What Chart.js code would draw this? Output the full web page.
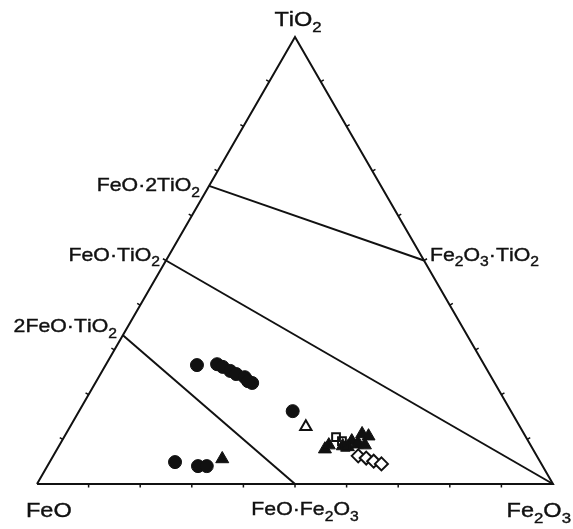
<!DOCTYPE html>
<html>
<head>
<meta charset="utf-8">
<script src="https://cdn.jsdelivr.net/npm/chart.js@4"></script>
<style>
  html, body { margin: 0; padding: 0; background: #fff; }
  #wrap { width: 573px; height: 529px; }
</style>
</head>
<body>
<div id="wrap"><canvas id="ternary" width="573" height="529"></canvas></div>
<script>
// mole fractions (%): TiO2 and Fe2O3, FeO is the rest
const phaseNames   = ['TiO2', 'FeO', 'Fe2O3', 'FeO·2TiO2', 'FeO·TiO2', '2FeO·TiO2', 'Fe2O3·TiO2', 'FeO·Fe2O3'];
const phaseTiO2    = [100, 0, 0, 66.7, 50, 33.3, 50, 0];
const phaseFe2O3   = [0, 0, 100, 0, 0, 0, 50, 50];

// tie lines, by phase name
const tieLines = [
    ['FeO·2TiO2', 'Fe2O3·TiO2'],
    ['FeO·TiO2', 'Fe2O3'],
    ['2FeO·TiO2', 'FeO·Fe2O3']
];

const circleTiO2  = [26.6, 26.8, 26.2, 25.3, 24.6, 23.9, 22.6, 23.0, 16.3, 4.9, 4.0, 4.0];
const circleFe2O3 = [17.7, 21.5, 22.9, 24.8, 26.3, 28.3, 30.4, 29.4, 41.4, 24.3, 29.2, 30.9];

const triTiO2     = [5.6, 7.8, 8.7, 11.2, 10.7, 9.6, 8.5, 9.0, 8.3, 8.9, 8.7];
const triFe2O3    = [33.1, 51.9, 52.2, 57.4, 58.9, 56.2, 55.0, 57.8, 56.1, 57.6, 59.2];

const openTriTiO2  = [12.8];
const openTriFe2O3 = [45.7];

const squareTiO2  = [10.5, 9.6, 8.3];
const squareFe2O3 = [52.7, 54.3, 55.6];

const diamondTiO2  = [6.3, 5.8, 5.1, 4.5];
const diamondFe2O3 = [59.1, 60.9, 62.7, 64.5];

const tickSteps = [0.1, 0.2, 0.3, 0.4, 0.5, 0.6, 0.7, 0.8, 0.9];

// ternary -> chart coordinates (x along base, y = TiO2 fraction)
function toXY(ti, fe) {
    const t = ti / 100, f = fe / 100;
    return { x: f + t / 2, y: t };
}

function phasePoint(name) {
    const i = phaseNames.indexOf(name);
    return toXY(phaseTiO2[i], phaseFe2O3[i]);
}

function series(tis, fes) {
    return tis.map((t, i) => toXY(t, fes[i]));
}

const ink = '#111';

const datasets = [];

// outline
datasets.push({
    data: ['FeO', 'Fe2O3', 'TiO2', 'FeO'].map(phasePoint),
    showLine: true, borderColor: ink, borderWidth: 2, pointRadius: 0
});

tieLines.forEach(pair => {
    datasets.push({
        data: pair.map(phasePoint),
        showLine: true, borderColor: ink, borderWidth: 2, pointRadius: 0
    });
});

datasets.push({
    data: series(circleTiO2, circleFe2O3),
    pointStyle: 'circle', pointRadius: 6.5, backgroundColor: ink, borderColor: ink, borderWidth: 1
});
datasets.push({
    data: series(squareTiO2, squareFe2O3),
    pointStyle: 'rect', pointRadius: 5.5, backgroundColor: 'rgba(255,255,255,0)', borderColor: ink, borderWidth: 2
});
datasets.push({
    data: series(triTiO2, triFe2O3),
    pointStyle: 'triangle', pointRadius: 7.5, backgroundColor: ink, borderColor: ink, borderWidth: 1
});
datasets.push({
    data: series(openTriTiO2, openTriFe2O3),
    pointStyle: 'triangle', pointRadius: 6.5, backgroundColor: '#fff', borderColor: ink, borderWidth: 2
});
datasets.push({
    data: series(diamondTiO2, diamondFe2O3),
    pointStyle: 'rectRot', pointRadius: 6.5, backgroundColor: '#fff', borderColor: ink, borderWidth: 2
});

// text with subscripted digits (digit after a letter)
function drawChem(ctx, text, x, y, size, align) {
    const sub = Math.round(size * 0.72);
    const stretch = 1.12;
    const parts = [];
    for (let i = 0; i < text.length; i++) {
        const c = text[i];
        const isSub = /[0-9]/.test(c) && i > 0 && /[A-Za-z]/.test(text[i - 1]);
        parts.push({ c, isSub });
    }
    const font = s => `${s}px "Liberation Sans", Arial, sans-serif`;
    let w = 0;
    parts.forEach(p => {
        ctx.font = font(p.isSub ? sub : size);
        p.w = ctx.measureText(p.c).width;
        w += p.w;
    });
    let startX = x;
    if (align === 'right') startX = x - w * stretch;
    if (align === 'center') startX = x - w * stretch / 2;
    ctx.save();
    ctx.translate(startX, y);
    ctx.scale(stretch, 1);
    ctx.fillStyle = ink;
    ctx.strokeStyle = ink;
    ctx.lineWidth = 0.4;
    ctx.textBaseline = 'alphabetic';
    ctx.textAlign = 'left';
    let cx = 0;
    parts.forEach(p => {
        ctx.font = font(p.isSub ? sub : size);
        const yy = p.isSub ? size * 0.3 : 0;
        ctx.fillText(p.c, cx, yy);
        ctx.strokeText(p.c, cx, yy);
        cx += p.w;
    });
    ctx.restore();
}

const labelPlugin = {
    id: 'ternaryLabels',
    afterDatasetsDraw(chart) {
        const ctx = chart.ctx;
        const xs = chart.scales.x, ys = chart.scales.y;
        const px = p => ({ x: xs.getPixelForValue(p.x), y: ys.getPixelForValue(p.y) });

        // small ticks every 10% on each edge, pointing outwards
        const A = px(phasePoint('FeO')), B = px(phasePoint('Fe2O3')), C = px(phasePoint('TiO2'));
        const edges = [[A, B], [B, C], [C, A]];
        const centre = { x: (A.x + B.x + C.x) / 3, y: (A.y + B.y + C.y) / 3 };
        ctx.save();
        ctx.strokeStyle = ink;
        ctx.lineWidth = 1.5;
        edges.forEach(([P, Q]) => {
            tickSteps.forEach(s => {
                const mx = P.x + (Q.x - P.x) * s, my = P.y + (Q.y - P.y) * s;
                let nx = -(Q.y - P.y), ny = Q.x - P.x;
                const len = Math.hypot(nx, ny);
                nx /= len; ny /= len;
                if ((centre.x - mx) * nx + (centre.y - my) * ny > 0) { nx = -nx; ny = -ny; }
                ctx.beginPath();
                ctx.moveTo(mx, my);
                ctx.lineTo(mx + nx * 3.5, my + ny * 3.5);
                ctx.stroke();
            });
        });
        ctx.restore();

        const big = 21, mid = 19;
        const p = name => px(phasePoint(name));
        let q = p('TiO2');      drawChem(ctx, 'TiO2', q.x + 3, q.y - 11, big, 'center');
        q = p('FeO');           drawChem(ctx, 'FeO', q.x - 11, q.y + 33, big, 'left');
        q = p('FeO·Fe2O3');     drawChem(ctx, 'FeO·Fe2O3', q.x + 10, q.y + 31, mid, 'center');
        q = p('Fe2O3');         drawChem(ctx, 'Fe2O3', q.x + 18, q.y + 33, big, 'right');
        q = p('FeO·2TiO2');     drawChem(ctx, 'FeO·2TiO2', q.x - 9, q.y + 5, mid, 'right');
        q = p('FeO·TiO2');      drawChem(ctx, 'FeO·TiO2', q.x - 6, q.y, mid, 'right');
        q = p('2FeO·TiO2');     drawChem(ctx, '2FeO·TiO2', q.x - 6, q.y - 3, mid, 'right');
        q = p('Fe2O3·TiO2');    drawChem(ctx, 'Fe2O3·TiO2', q.x + 6, q.y, mid, 'left');
    }
};

new Chart(document.getElementById('ternary'), {
    type: 'scatter',
    data: { datasets },
    options: {
        responsive: false,
        animation: false,
        events: [],
        layout: { padding: 0, autoPadding: false },
        plugins: { legend: { display: false }, tooltip: { enabled: false } },
        scales: {
            x: { type: 'linear', display: false, min: -37 / 516, max: 536 / 516 },
            y: { type: 'linear', display: false, min: -45 / 447, max: 484 / 447 }
        }
    },
    plugins: [labelPlugin]
});
</script>
</body>
</html>
